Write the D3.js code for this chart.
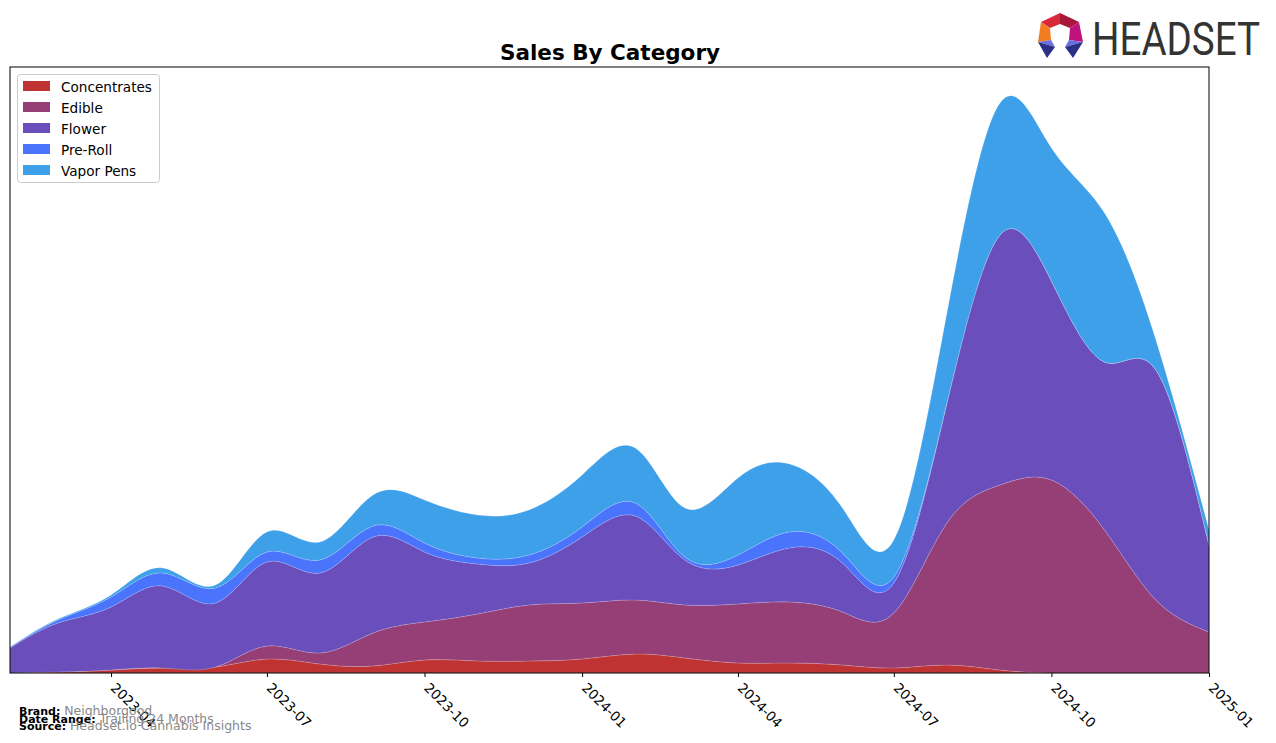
<!DOCTYPE html>
<html>
<head>
<meta charset="utf-8">
<script src="https://cdn.jsdelivr.net/npm/d3@7"></script>
<style>
  html, body { margin: 0; padding: 0; background: #fff; }
  svg { display: block; font-family: "DejaVu Sans", sans-serif; }
</style>
</head>
<body>
<svg id="chart" width="1276" height="743"></svg>
<script>
// ---- data (arbitrary sales units) ----
const months = ["2023-02","2023-03","2023-04","2023-05","2023-06","2023-07","2023-08","2023-09","2023-10","2023-11","2023-12",
  "2024-01","2024-02","2024-03","2024-04","2024-05","2024-06","2024-07","2024-08","2024-09","2024-10","2024-11","2024-12","2025-01"];
const categories = ["Concentrates", "Edible", "Flower", "Pre-Roll", "Vapor Pens"];
const concentrates = [0, 1, 3, 5, 6, 14, 9, 7, 13, 12, 12, 14, 19, 15, 10, 10, 8, 5, 8, 3, 0, 0, 0, 0];
const edible       = [0, 0, 0, 0, 0, 13, 11, 33, 38, 47, 56, 56, 54, 53, 59, 61, 53, 55, 142, 185, 193, 143, 73, 41];
const flower       = [25, 49, 63, 82, 64, 84, 80, 96, 70, 50, 42, 66, 84, 45, 39, 54, 49, 30, 120, 250, 199, 168, 230, 87];
const preRoll      = [1, 3, 10, 13, 15, 10, 13, 11, 9, 6, 8, 10, 13, 3, 10, 16, 10, 6, 0, 0, 0, 0, 0, 0];
const vaporPens    = [0, 1, 2, 5, 3, 20, 18, 31, 43, 43, 45, 52, 55, 49, 77, 68, 45, 37, 90, 132, 133, 149, 30, 15];
const tickLabels = ["2023-04","2023-07","2023-10","2024-01","2024-04","2024-07","2024-10","2025-01"];
const colors = ["#c03333", "#963f76", "#6a4fbc", "#4a74fb", "#3fa0ea"];

// ---- layout ----
const svg = d3.select("#chart");
const M = { left: 10, right: 1209, top: 67, bottom: 673 };
const parse = d3.timeParse("%Y-%m");

const seriesArrays = [concentrates, edible, flower, preRoll, vaporPens];
const table = months.map((m, i) => {
  const row = { date: parse(m) };
  categories.forEach((c, k) => row[c] = seriesArrays[k][i]);
  return row;
});

const x = d3.scaleTime()
  .domain([parse(months[0]), parse(months[months.length - 1])])
  .range([M.left, M.right]);
const y = d3.scaleLinear().domain([0, 606]).range([M.bottom, M.top]);

const stack = d3.stack().keys(categories);
const layers = stack(table);

svg.append("defs").append("clipPath").attr("id", "clip")
  .append("rect").attr("x", M.left).attr("y", M.top)
  .attr("width", M.right - M.left).attr("height", M.bottom - M.top);

const area = d3.area()
  .curve(d3.curveNatural)
  .x(d => x(d.data.date))
  .y0(d => y(d[0]))
  .y1(d => y(d[1]));

svg.append("g").attr("clip-path", "url(#clip)")
  .selectAll("path").data(layers).join("path")
  .attr("d", area)
  .attr("fill", (d, i) => colors[i])
  .attr("stroke", "rgba(255,255,255,0.25)")
  .attr("stroke-width", 0.6);

// frame
svg.append("rect").attr("x", M.left).attr("y", M.top)
  .attr("width", M.right - M.left).attr("height", M.bottom - M.top)
  .attr("fill", "none").attr("stroke", "#000").attr("stroke-width", 1);

// x axis
const xAxis = d3.axisBottom(x)
  .tickValues(tickLabels.map(parse))
  .tickFormat(d3.timeFormat("%Y-%m"))
  .tickSize(4).tickSizeOuter(0);
const gx = svg.append("g").attr("transform", `translate(0,${M.bottom})`).call(xAxis);
gx.select(".domain").remove();
gx.selectAll("line").attr("stroke", "#000");
gx.selectAll("text")
  .attr("font-size", 13.5)
  .attr("fill", "#000")
  .attr("font-family", "DejaVu Sans")
  .attr("text-anchor", "start")
  .attr("transform", "translate(5,9) rotate(45)")
  .attr("y", 0).attr("x", 0).attr("dy", "0.7em");

// title
svg.append("text").attr("x", 610).attr("y", 60).attr("text-anchor", "middle")
  .attr("font-size", 21.5).attr("font-weight", "bold").attr("fill", "#000")
  .text("Sales By Category");

// legend
const lg = svg.append("g");
lg.append("rect").attr("x", 17.5).attr("y", 74.5).attr("width", 142).attr("height", 108)
  .attr("rx", 3).attr("fill", "#fff").attr("fill-opacity", 0.8)
  .attr("stroke", "#ccc").attr("stroke-width", 1);
categories.forEach((c, i) => {
  const yy = 81 + i * 21;
  lg.append("rect").attr("x", 23).attr("y", yy).attr("width", 27).attr("height", 10).attr("fill", colors[i]);
  lg.append("text").attr("x", 61).attr("y", yy + 10.5).attr("font-size", 13.6).attr("fill", "#000").text(c);
});

// footer
const foot = [["Brand:", "Neighborgood", 711], ["Date Range:", "Trailing 24 Months", 719], ["Source:", "Headset.io Cannabis Insights", 726]];
foot.forEach(([k, v, yy]) => {
  const t = svg.append("text").attr("x", 19).attr("y", yy + 4);
  t.append("tspan").attr("font-weight", "bold").attr("font-size", 11).attr("fill", "#000").text(k + " ");
  t.append("tspan").attr("font-size", 12.5).attr("fill", "#888").text(v);
});

// logo
const logo = svg.append("g");
const polys = [
  [[[1041,22],[1060,13],[1060,24],[1050,28]], "#d8283c"],
  [[[1060,13],[1079,22],[1070,28],[1060,24]], "#a8163c"],
  [[[1041,22],[1050,28],[1051,40],[1038,42]], "#f47c20"],
  [[[1079,22],[1083,42],[1069,40],[1070,28]], "#c0127c"],
  [[[1038,42],[1051,40],[1055,47]], "#6a6ee0"],
  [[[1038,42],[1055,47],[1047,58]], "#2b2f86"],
  [[[1083,42],[1069,40],[1065,47]], "#6a6ee0"],
  [[[1083,42],[1065,47],[1073,58]], "#2b2f86"]
];
polys.forEach(([pts, col]) => {
  logo.append("polygon").attr("points", pts.map(p => p.join(",")).join(" ")).attr("fill", col);
});
logo.append("text").attr("x", 1092).attr("y", 55)
  .attr("font-family", "Roboto, 'DejaVu Sans', sans-serif")
  .attr("font-size", 46).attr("fill", "#333")
  .attr("textLength", 168).attr("lengthAdjust", "spacingAndGlyphs")
  .text("HEADSET");
</script>
</body>
</html>
